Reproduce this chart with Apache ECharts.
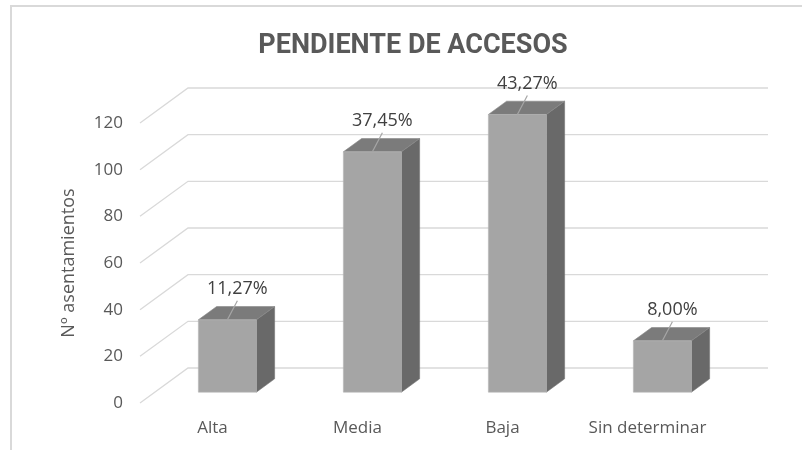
<!DOCTYPE html>
<html>
<head>
<meta charset="utf-8">
<script src="https://cdn.jsdelivr.net/npm/echarts@6/dist/echarts.min.js"></script>
<style>
  html, body { margin: 0; padding: 0; background: #fff; }
  #chart { width: 802px; height: 450px; }
</style>
</head>
<body>
<div id="chart"></div>
<script>
const categories = ['Alta', 'Media', 'Baja', 'Sin determinar']
const values = [31, 103, 119, 22]
const percentLabels = ['11,27%', '37,45%', '43,27%', '8,00%']
const yTicks = [0, 20, 40, 60, 80, 100, 120]

// depth of the 3D box (pixels), bars sit in the middle of it
const DX = 48
const DY = -35
const F0 = 0.31
const F1 = 0.69

const chart = echarts.init(document.getElementById('chart'))

function renderGrid(params, api) {
  const cs = params.coordSys
  const y = api.coord([0, api.value(0)])[1]
  return {
    type: 'polyline',
    shape: {
      points: [
        [cs.x, y],
        [cs.x + DX, y + DY],
        [cs.x + cs.width + DX, y + DY]
      ]
    },
    style: { stroke: '#d9d9d9', lineWidth: 1.3, fill: null },
    silent: true
  }
}

function renderBar(params, api) {
  const i = api.value(0)
  const base = api.coord([i, 0])
  const top = api.coord([i, api.value(1)])
  const bw = api.size([1, 0])[0] * 0.4
  const fx = base[0] + F0 * DX - bw / 2
  const fyB = base[1] + F0 * DY
  const fyT = top[1] + F0 * DY
  const ddx = (F1 - F0) * DX
  const ddy = (F1 - F0) * DY
  const midTop = fx + bw / 2
  const lx = midTop + 10
  const ly = fyT - 31
  return {
    type: 'group',
    children: [
      {
        type: 'polygon',
        shape: { points: [[fx + bw, fyB], [fx + bw + ddx, fyB + ddy], [fx + bw + ddx, fyT + ddy], [fx + bw, fyT]] },
        style: { fill: '#696969', stroke: '#767676', lineWidth: 0.6 }
      },
      {
        type: 'polygon',
        shape: { points: [[fx, fyT], [fx + ddx, fyT + ddy], [fx + bw + ddx, fyT + ddy], [fx + bw, fyT]] },
        style: { fill: '#7b7b7b', stroke: '#888', lineWidth: 0.6 }
      },
      {
        type: 'rect',
        shape: { x: fx, y: fyT, width: bw, height: fyB - fyT },
        style: { fill: '#a5a5a5', stroke: '#b5b5b5', lineWidth: 0.6 }
      },
      {
        type: 'line',
        shape: { x1: midTop, y1: fyT, x2: lx, y2: ly + 12 },
        style: { stroke: '#a6a6a6', lineWidth: 1.2 }
      },
      {
        type: 'text',
        style: {
          x: lx, y: ly, text: percentLabels[i],
          fill: '#404040', font: '18px "Open Sans"',
          align: 'center', verticalAlign: 'middle'
        }
      }
    ]
  }
}

chart.setOption({
  animation: false,
  title: {
    text: 'PENDIENTE DE ACCESOS',
    left: 408,
    top: 28,
    textAlign: 'center',
    textStyle: { color: '#595959', fontSize: 27, fontWeight: 'bold', fontFamily: 'Roboto' }
  },
  graphic: [
    {
      type: 'polyline',
      shape: { points: [[11, 450], [11, 6], [802, 6]] },
      style: { stroke: '#d9d9d9', lineWidth: 2, fill: null },
      silent: true
    }
  ],
  grid: { left: 140, right: 82, top: 123, bottom: 47 },
  xAxis: {
    type: 'category',
    data: categories,
    axisLine: { show: false },
    axisTick: { show: false },
    axisLabel: { color: '#595959', fontSize: 17, fontFamily: 'Open Sans', margin: 17, interval: 0, hideOverlap: false }
  },
  yAxis: {
    type: 'value',
    min: 0,
    max: 120,
    interval: 20,
    name: 'Nº asentamientos',
    nameLocation: 'middle',
    nameGap: 62,
    nameTextStyle: { color: '#595959', fontSize: 18, fontFamily: 'Open Sans' },
    axisLine: { show: false },
    axisTick: { show: false },
    splitLine: { show: false },
    axisLabel: { color: '#595959', fontSize: 17, fontFamily: 'Open Sans', margin: 17 }
  },
  series: [
    {
      type: 'custom',
      renderItem: renderGrid,
      data: yTicks.map(t => [t]),
      encode: { y: 0 },
      silent: true,
      z: 1
    },
    {
      type: 'custom',
      renderItem: renderBar,
      data: values.map((v, i) => [i, v]),
      encode: { x: 0, y: 1 },
      z: 2
    }
  ]
})
</script>
</body>
</html>
